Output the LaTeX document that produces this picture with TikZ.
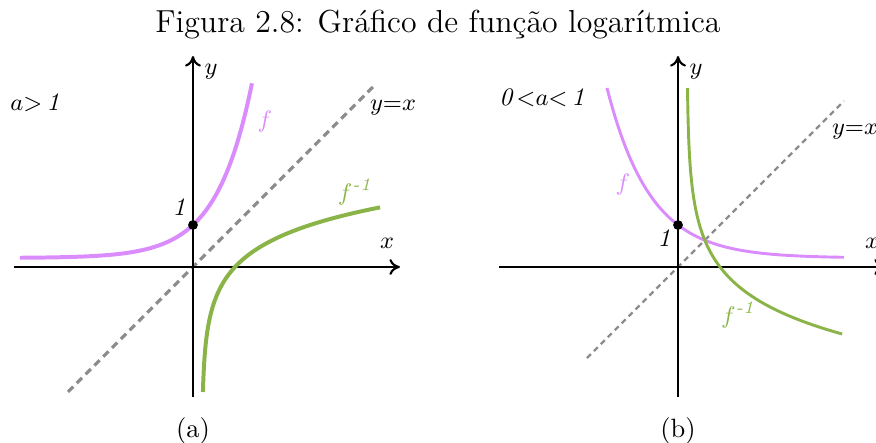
\documentclass[tikz,border=0pt]{standalone}
\usepackage{amsmath}
\usepackage{xcolor}
\usetikzlibrary{arrows.meta, positioning, calc}

\definecolor{fviolet}{RGB}{218,140,252}
\definecolor{finvgreen}{RGB}{138,180,72}
\definecolor{diaggray}{RGB}{140,140,140}

\begin{document}
\begin{tikzpicture}[
  x=0.5565cm, y=0.5565cm,
  axis/.style={-{To[length=4pt, width=6pt]}, line width=0.8pt, black},
  diag/.style={diaggray, line width=1.2pt, dash pattern=on 2.8pt off 1.9pt},
  diagthin/.style={diaggray, line width=0.85pt, dash pattern=on 2.1pt off 1.6pt},
  fcurve/.style={fviolet, line width=1.5pt},
  gcurve/.style={finvgreen, line width=1.5pt},
  fcurvethin/.style={fviolet, line width=1.1pt},
  gcurvethin/.style={finvgreen, line width=1.1pt},
  dot/.style={circle, fill=black, inner sep=0pt, minimum size=0.13cm},
  lbl/.style={font=\fontsize{9.5}{11}\selectfont},
  subcap/.style={font=\fontsize{10}{12}\selectfont, anchor=base},
]
\useasboundingbox (-4.595,-4.190) rectangle (16.262,6.357);

%% Title
\node[anchor=base, font=\fontsize{12}{14}\selectfont] (title) at (5.833,5.595)
      {Figura 2.8: Gráfico de função logarítmica};

%% Panel (a): a > 1
\coordinate (xla) at (-4.262,0);
\coordinate (xra) at (4.929,0);
\coordinate (yba) at (0,-3.095);
\coordinate (yta) at (0,5.024);
\coordinate (dla) at (-2.976,-2.976);
\coordinate (dra) at (4.357,4.357);

\draw[diag] (dla) -- (dra);
\draw[axis] (xla) -- (xra);
\draw[axis] (yba) -- (yta);

\draw[fcurve] plot[domain=-4.119:1.405, samples=100, smooth]
      (\x, {0.214+0.786*exp(1.187*\x)});
\draw[gcurve] plot[domain=-2.976:1.42, samples=100, smooth]
      ({0.214+0.786*exp(1.187*\x)}, \x);

\node[dot] (onea) at (0,1) {};
\node[lbl] (onelbla) at (-0.333,1.429) {$\textit{1}$};
\node[lbl] (ylbla) at (0.429,4.643) {$y$};
\node[lbl] (xlbla) at (4.619,0.571) {$x$};
\node[lbl, text=fviolet] (flbla) at (1.714,3.452) {$f$};
\node[lbl, text=finvgreen] (glbla) at (3.857,1.786) {$f^{\textit{-1}}$};
\node[lbl] (dlbla) at (4.762,3.786) {$y{=}x$};
\node[lbl] (conda) at (-3.762,3.905) {$a{>}\,\textit{1}$};
\node[subcap] (capa) at (0,-4.071) {(a)};

%% Panel (b): 0 < a < 1
\begin{scope}[shift={(11.548,0)}]
\coordinate (xlb) at (-4.262,0);
\coordinate (xrb) at (4.929,0);
\coordinate (ybb) at (0,-3.095);
\coordinate (ytb) at (0,5.024);
\coordinate (dlb) at (-2.167,-2.167);
\coordinate (drb) at (3.952,3.952);

\draw[diagthin] (dlb) -- (drb);
\draw[axis] (xlb) -- (xrb);
\draw[axis] (ybb) -- (ytb);

\draw[fcurvethin] plot[domain=-1.690:3.952, samples=100, smooth]
      (\x, {0.214+0.786*exp(-0.970*\x)});
\draw[gcurvethin] plot[domain=-1.595:4.262, samples=100, smooth]
      ({0.214+0.786*exp(-0.970*\x)}, \x);

\node[dot] (oneb) at (0,1) {};
\node[lbl] (onelblb) at (-0.333,0.690) {$\textit{1}$};
\node[lbl] (ylblb) at (0.429,4.643) {$y$};
\node[lbl] (xlblb) at (4.619,0.571) {$x$};
\node[lbl, text=fviolet] (flblb) at (-1.310,1.952) {$f$};
\node[lbl, text=finvgreen] (glblb) at (1.429,-1.143) {$f^{\textit{-1}}$};
\node[lbl] (dlblb) at (4.214,3.214) {$y{=}x$};
\node[lbl] (condb) at (-3.238,4.024) {$\textit{0}\,{<}a{<}\,\textit{1}$};
\node[subcap] (capb) at (0,-4.071) {(b)};
\end{scope}

\end{tikzpicture}
\end{document}
